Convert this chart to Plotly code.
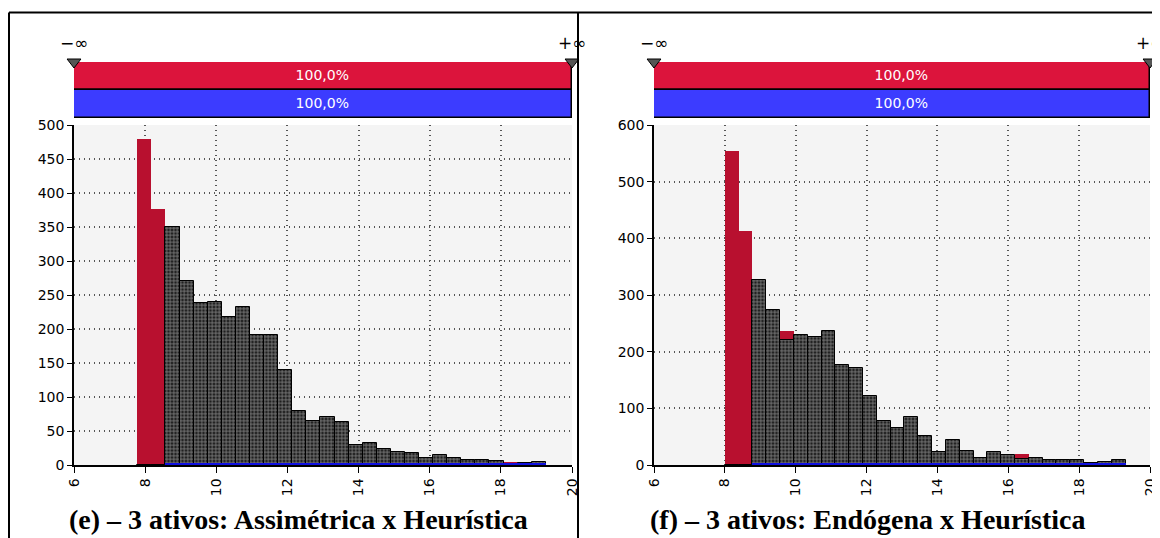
import numpy as np
import plotly.graph_objects as go

# ---------------- data ----------------
x_ticks = [6, 8, 10, 12, 14, 16, 18, 20]
left_y_ticks = [0, 50, 100, 150, 200, 250, 300, 350, 400, 450, 500]
right_y_ticks = [0, 100, 200, 300, 400, 500, 600]

# left panel: Assimétrica (red) x Heurística (blue), overlap hatched
left_bin_start = 7.78
left_bin_width = 0.396
left_red = [480, 377, 350, 271, 238, 240, 218, 232, 191, 191, 139, 79, 65, 71, 63,
            30, 33, 24, 19, 17, 11, 14, 11, 8, 8, 6, 4, 3, 5]
left_overlap = [0, 0, 350, 271, 238, 240, 218, 232, 191, 191, 139, 79, 65, 71, 63,
                30, 33, 24, 19, 17, 11, 14, 11, 8, 8, 6, 2, 3, 5]
left_blue = [0, 0, 3, 3, 3, 3, 3, 3, 3, 3, 3, 3, 3, 3, 3,
             3, 3, 3, 3, 3, 3, 3, 3, 3, 3, 3, 3, 3, 3]

# right panel: Endógena (red) x Heurística (blue), overlap hatched
right_bin_start = 8.0
right_bin_width = 0.39
right_red = [555, 413, 326, 273, 237, 230, 226, 237, 177, 171, 121, 77, 65, 85, 52,
             23, 45, 25, 12, 23, 18, 19, 12, 9, 9, 9, 6, 5, 8]
right_overlap = [0, 0, 326, 273, 221, 230, 226, 237, 177, 171, 121, 77, 65, 85, 52,
                 23, 45, 25, 12, 23, 18, 11, 12, 9, 9, 9, 4, 5, 8]
right_blue = [0, 0, 4, 4, 4, 4, 4, 4, 4, 4, 4, 4, 4, 4, 4,
              4, 4, 4, 4, 4, 4, 4, 4, 4, 4, 4, 4, 4, 4]

band_pct = "100,0%"
band_low, band_high = 6, 20
titles = ["(e) – 3 ativos: Assimétrica x Heurística",
          "(f) – 3 ativos: Endógena x Heurística"]

# ---------------- styles ----------------
W, H = 1160, 538
OFF = 8  # page body margin offset
RED_BAR = "#b8102f"
RED_BAND = "#dc143c"
BLUE_BAND = "#3c3cff"
BLUE_BAR = "#1010e0"
FONT = "DejaVu Sans"


def px_x(x):
    return (x - OFF) / W


def px_y(y):
    return 1 - (y - OFF) / H


fig = go.Figure()


def add_panel(xa, ya_hist, ya_band, start, width, red, overlap, blue):
    n = len(red)
    centers = start + width * (np.arange(n) + 0.5)
    fig.add_trace(go.Bar(x=centers, y=red, width=width, xaxis=xa, yaxis=ya_hist,
                         marker=dict(color=RED_BAR, line=dict(width=0)),
                         showlegend=False, hoverinfo="x+y"))
    fig.add_trace(go.Bar(x=centers, y=overlap, width=width, xaxis=xa, yaxis=ya_hist,
                         marker=dict(color="#2a2a2a",
                                     line=dict(color="black", width=1),
                                     pattern=dict(shape="+", fgcolor="#e4e4e4",
                                                  bgcolor="#202020", size=3.5,
                                                  solidity=0.4)),
                         showlegend=False, hoverinfo="x+y"))
    fig.add_trace(go.Bar(x=centers, y=blue, width=width, xaxis=xa, yaxis=ya_hist,
                         marker=dict(color=BLUE_BAR, line=dict(width=0)),
                         showlegend=False, hoverinfo="skip"))
    # band
    for yv, col in [(1, RED_BAND), (0, BLUE_BAND)]:
        fig.add_trace(go.Bar(x=[band_high - band_low], base=[band_low], y=[yv],
                             orientation="h", width=1, xaxis=xa, yaxis=ya_band,
                             marker=dict(color=col, line=dict(color="black", width=1.5)),
                             text=[band_pct], textposition="inside",
                             insidetextanchor="middle", constraintext="none",
                             textfont=dict(color="white", family=FONT, size=14),
                             showlegend=False, hoverinfo="skip"))
    fig.add_trace(go.Scatter(x=[band_low, band_high], y=[1.5, 1.5], mode="markers",
                             xaxis=xa, yaxis=ya_band, cliponaxis=False,
                             marker=dict(symbol="triangle-down", size=12, color="#555555",
                                         line=dict(color="black", width=1)),
                             showlegend=False, hoverinfo="skip"))


add_panel("x", "y", "y2", left_bin_start, left_bin_width, left_red, left_overlap, left_blue)
add_panel("x2", "y3", "y4", right_bin_start, right_bin_width, right_red, right_overlap, right_blue)

hist_dom = [px_y(465), px_y(125)]
band_dom = [px_y(118), px_y(62)]
left_xdom = [px_x(74), px_x(572)]
right_xdom = [px_x(654), px_x(1150)]

xcommon = dict(range=[6, 20], tickvals=x_ticks, tickangle=-90, showline=True,
               linecolor="black", linewidth=1.5, ticks="outside", ticklen=6,
               tickcolor="black", showgrid=True, gridcolor="#555555", griddash="1px,4px",
               gridwidth=1.5, zeroline=False, automargin=False,
               tickfont=dict(family=FONT, size=14, color="black"))
ycommon = dict(showline=True, linecolor="black", linewidth=1.5, ticks="outside", ticklen=5,
               tickcolor="black", showgrid=True, gridcolor="#555555", griddash="1px,4px",
               gridwidth=1.5, zeroline=False, automargin=False,
               tickfont=dict(family=FONT, size=14, color="black"))
band_common = dict(range=[-0.5, 1.5], visible=False, showgrid=False, fixedrange=True)

fig.update_layout(
    width=W, height=H, margin=dict(l=0, r=0, t=0, b=0, autoexpand=False),
    paper_bgcolor="white", plot_bgcolor="#f4f4f4",
    barmode="overlay", bargap=0,
    xaxis=dict(domain=left_xdom, anchor="y", **xcommon),
    yaxis=dict(domain=hist_dom, anchor="x", range=[0, 500], tickvals=left_y_ticks, **ycommon),
    yaxis2=dict(domain=band_dom, anchor="x", **band_common),
    xaxis2=dict(domain=right_xdom, anchor="y3", **xcommon),
    yaxis3=dict(domain=hist_dom, anchor="x2", range=[0, 600], tickvals=right_y_ticks, **ycommon),
    yaxis4=dict(domain=band_dom, anchor="x2", **band_common),
)

# infinity labels
for xa in ["x", "x2"]:
    for xv, txt in [(band_low, "−∞"), (band_high, "+∞")]:
        fig.add_annotation(x=xv, xref=xa, y=px_y(43), yref="paper", text=txt,
                           xanchor="center", yanchor="middle",
                           showarrow=False, font=dict(family=FONT, size=17, color="black"))

# titles
for cx, t in [(298, titles[0]), (868, titles[1])]:
    fig.add_annotation(x=px_x(cx), xref="paper", y=px_y(519), yref="paper", text=f"<b>{t}</b>",
                       xanchor="center", yanchor="middle",
                       showarrow=False, font=dict(family="Liberation Serif", size=28, color="black"))


# frame lines
def px_line(x0, y0, x1, y1):
    fig.add_shape(type="line", xref="paper", yref="paper",
                  x0=px_x(x0), x1=px_x(x1), y0=px_y(y0), y1=px_y(y1),
                  line=dict(color="black", width=2))


px_line(9, 12.5, W + OFF, 12.5)
px_line(9, 12.5, 9, H + OFF)
px_line(578, 12.5, 578, H + OFF)

fig.write_html("out.html")
